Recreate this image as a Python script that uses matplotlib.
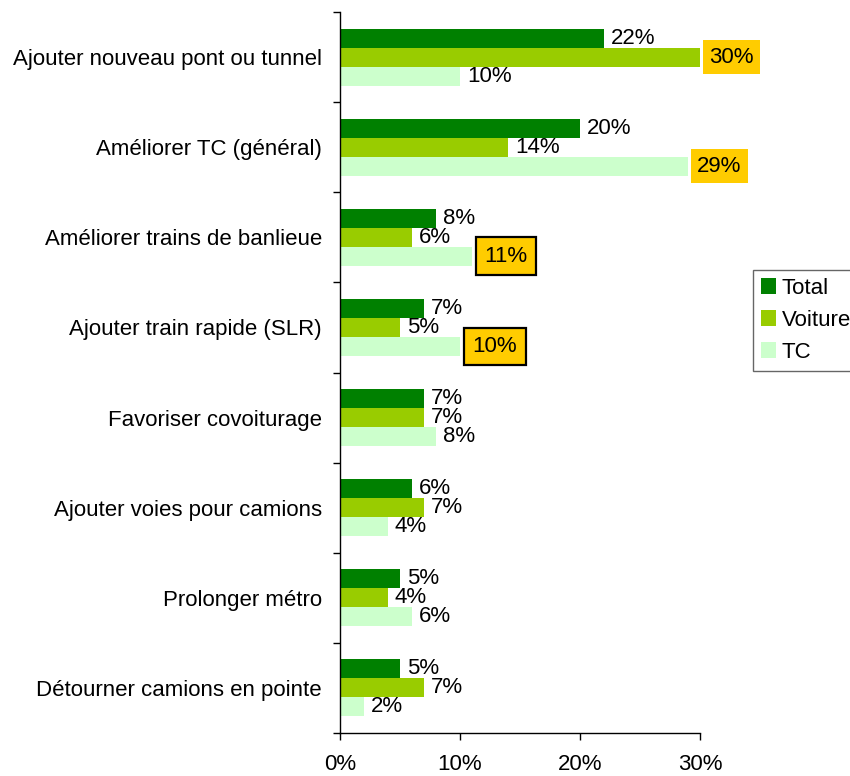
import matplotlib
matplotlib.use("Agg")
import matplotlib.pyplot as plt
import numpy as np
from matplotlib.ticker import FixedLocator

plt.rcParams['font.family'] = ['Liberation Sans', 'DejaVu Sans']

categories = ["Ajouter nouveau pont ou tunnel", "Améliorer TC (général)",
              "Améliorer trains de banlieue", "Ajouter train rapide (SLR)",
              "Favoriser covoiturage", "Ajouter voies pour camions",
              "Prolonger métro", "Détourner camions en pointe"]
total = [22, 20, 8, 7, 7, 6, 5, 5]
voiture = [30, 14, 6, 5, 7, 7, 4, 7]
tc = [10, 29, 11, 10, 8, 4, 6, 2]
series_names = ["Total", "Voiture", "TC"]
colors = ["#008000", "#99CC00", "#CCFFCC"]
# highlighted labels: (series index, category index, with border)
highlights = [(1, 0, False), (2, 1, False), (2, 2, True), (2, 3, True)]
xticks = [0, 10, 20, 30]

FS = 16
fig = plt.figure(figsize=(8.5, 7.76), dpi=100)
ax = fig.add_axes([340/850, 1-733/776, 360/850, 721/776])

n = len(categories)
y = np.arange(n)
bh = 0.211
series = [total, voiture, tc]
for i, (vals, name, c) in enumerate(zip(series, series_names, colors)):
    pos = y - bh + i * bh
    ax.barh(pos, vals, height=bh, color=c, label=name, edgecolor='none')
    for j, v in enumerate(vals):
        hl = [h for h in highlights if h[0] == i and h[1] == j]
        if hl:
            border = hl[0][2]
            if border:
                bbox = dict(boxstyle='square,pad=0.38', facecolor='#FFCC00',
                            edgecolor='black', linewidth=1.6)
                off = 9
            else:
                bbox = dict(boxstyle='square,pad=0.28', facecolor='#FFCC00',
                            edgecolor='none')
                off = 6.5
            ax.annotate(f"{v}%", (v, pos[j]), xytext=(off, 0), textcoords='offset points',
                        va='center', ha='left', fontsize=FS, bbox=bbox)
        else:
            ax.annotate(f"{v}%", (v, pos[j]), xytext=(5, 0), textcoords='offset points',
                        va='center', ha='left', fontsize=FS)

ax.set_ylim(n - 0.5, -0.5)
ax.set_xlim(0, 30)
ax.set_yticks(y)
ax.set_yticklabels(categories, fontsize=FS)
ax.yaxis.set_minor_locator(FixedLocator(np.arange(-0.5, n, 1.0)))
ax.tick_params(axis='y', which='major', length=0, pad=13)
ax.tick_params(axis='y', which='minor', length=5, direction='out', width=1)
ax.set_xticks(xticks)
ax.set_xticklabels([f"{t}%" for t in xticks], fontsize=FS)
ax.tick_params(axis='x', length=5, direction='out', pad=10, width=1)
for s in ['top', 'right']:
    ax.spines[s].set_visible(False)
for s in ['left', 'bottom']:
    ax.spines[s].set_color('black')
    ax.spines[s].set_linewidth(1)

leg = fig.legend(loc='upper left', bbox_to_anchor=(753/850, 1-270/776), fontsize=FS,
                 frameon=True, fancybox=False, edgecolor='#404040', handlelength=0.7,
                 handleheight=0.7, handletextpad=0.25, borderpad=0.35, labelspacing=0.5,
                 borderaxespad=0)
leg.get_frame().set_linewidth(1)

fig.savefig("out.png", dpi=100)
